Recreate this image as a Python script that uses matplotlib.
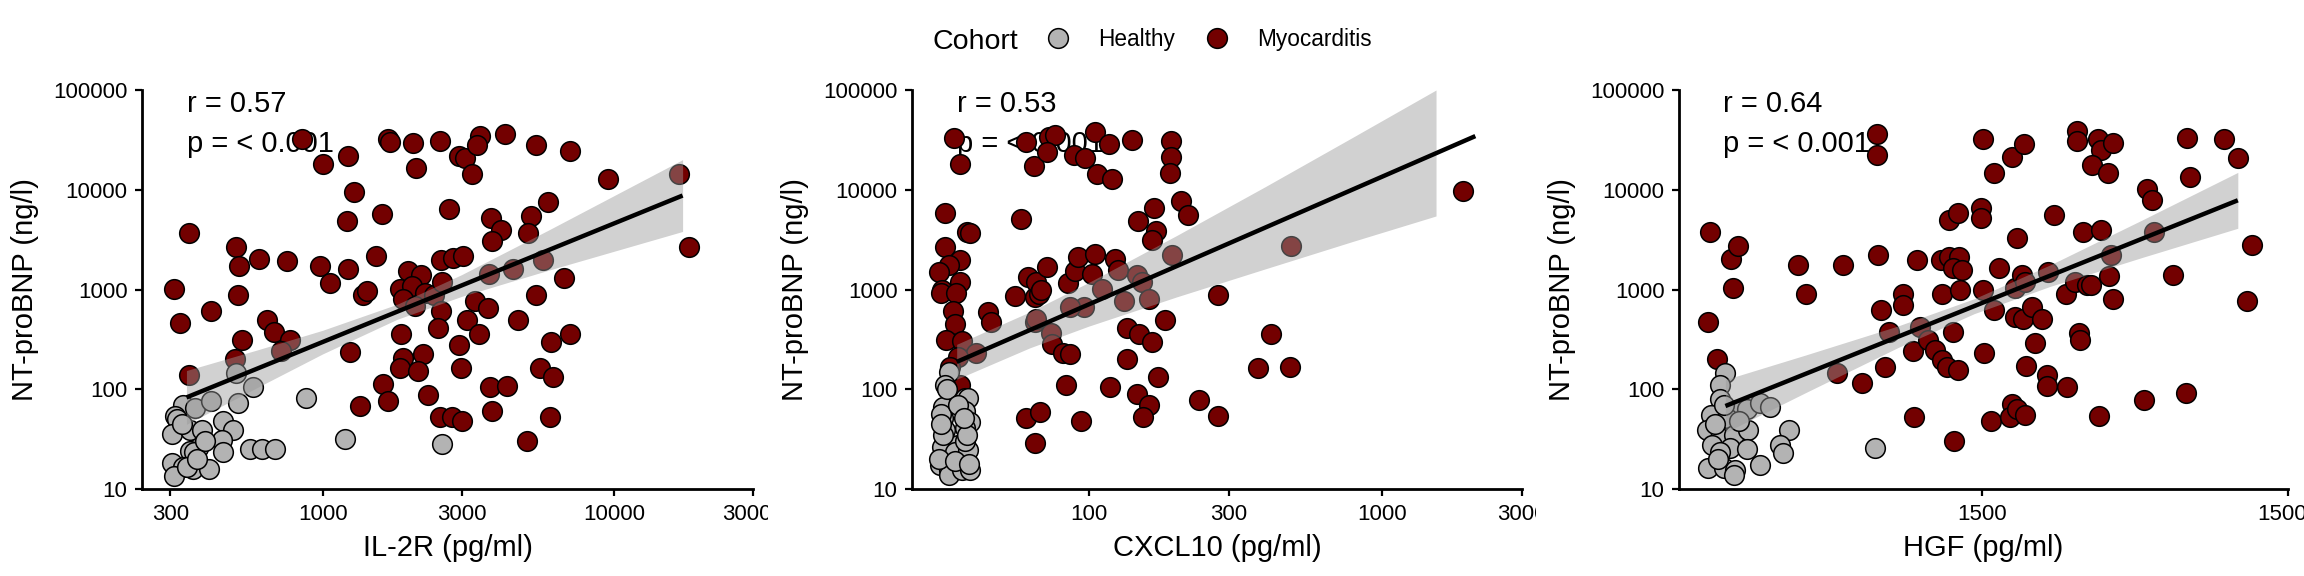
import matplotlib
matplotlib.use("Agg")
import matplotlib.pyplot as plt
from matplotlib.lines import Line2D
from matplotlib.ticker import NullLocator
from matplotlib.transforms import Bbox, TransformedBbox

plt.rcParams['font.family'] = ['Liberation Sans', 'DejaVu Sans']

healthy_col = '#b3b3b3'
myo_col = '#730000'
band_col = '#999999'

# ---- IL-2R panel ----
il2r_myo_x = [849, 1004, 1219, 1277, 1675, 1710, 2051, 2099, 2529, 2943, 3084, 3245, 3475, 3396,
              4223, 5400, 7050, 9550, 16750, 5915, 5210, 3785, 4090, 3829, 5070, 2724, 1600, 1210,
              347, 18030, 503, 516, 606, 757, 977, 1219, 1521, 1060, 1380, 1418, 310, 511, 324, 414,
              642, 681, 771, 527, 499, 719, 347, 1239, 1959, 2183, 1847, 2020, 1884, 2251, 2075,
              2416, 2540, 2570, 2799, 3027, 2549, 2490, 1862, 3345, 3686, 3131, 3436, 3715, 4510,
              5690, 6730, 5400, 4670, 7050, 6080, 2932, 2218, 1884, 1847, 2132, 2989, 5590, 6175,
              1611, 2305, 1675, 1343, 3742, 4288, 2529, 2778, 3000, 3816, 6035, 5030]
il2r_myo_y = [32500, 18100, 21600, 9600, 32000, 30000, 29600, 16700, 30800, 21600, 20800, 14300,
              34600, 28000, 36560, 28200, 24300, 12900, 14500, 7600, 5460, 5170, 3960, 3080, 3690,
              6340, 5680, 4850, 3690, 2690, 2650, 1720, 2010, 1920, 1720, 1590, 2190, 1150, 875,
              970, 1010, 875, 459, 614, 497, 372, 310, 315, 201, 241, 139, 236, 1550, 1400, 1010,
              1090, 796, 930, 681, 875, 1970, 1180, 2050, 2180, 605, 408, 357, 766, 655, 497, 357,
              1440, 1590, 1970, 1310, 875, 497, 357, 298, 280, 226, 206, 165, 153, 164, 163, 133,
              112, 88, 77, 68, 105, 109, 53, 53, 48, 60, 53, 30]
il2r_hea_x = [503, 576, 875, 2577, 1189, 332, 365, 413, 512, 311, 316, 304, 351, 385, 455, 492,
              451, 373, 351, 362, 455, 562, 618, 685, 304, 332, 359, 408, 309, 342, 330, 372, 395]
il2r_hea_y = [146, 105, 82, 28, 32, 69, 65, 76, 73, 54, 50, 36, 39, 39, 48, 39, 31, 26, 24, 23.5,
              23.5, 25, 25, 25, 18.2, 16.6, 15.9, 15.9, 13.5, 16.6, 45, 20, 30]
il2r_band_x = [341, 600, 1000, 1800, 3000, 6000, 17200]
il2r_band_lo = [44.5, 105, 226, 502, 853, 1570, 3819]
il2r_band_hi = [154, 249, 390, 710, 1409, 3981, 20045]
il2r_line_x = [341, 17200]
il2r_line_y = [82.8, 8750]

# ---- CXCL10 panel ----
cxcl10_myo_x = [34.8, 36.3, 32.4, 38.4, 39.4, 32.4, 36.5, 33.3, 31.0, 36.5, 31.6, 31.5, 35.3, 34.4,
                34.9, 32.7, 37.0, 41.3, 36.0, 33.7, 36.3, 45.5, 46.5, 58.7, 56.0, 62.1, 65.5, 65.5,
                61.4, 65.5, 68.1, 65.1, 61.4, 73.0, 76.7, 72.1, 89.1, 97.3, 105, 107, 117, 120, 140,
                191, 191, 190, 206, 218, 1888, 167, 147, 170, 164, 192, 491, 66.2, 67.5, 68.8, 72.4,
                85.1, 90.1, 91.9, 103, 105, 111, 123, 126, 146, 152, 132, 161, 96.6, 86.1, 66.2,
                74.3, 75.2, 81.8, 86.1, 135, 149, 164, 182, 135, 173, 83.4, 118, 146, 161, 153,
                94.4, 238, 277, 277, 417, 379, 485]
cxcl10_myo_y = [32700, 18100, 5810, 3800, 3710, 2690, 1980, 1760, 1510, 1200, 988, 929, 929, 609,
                451, 312, 307, 229, 212, 168, 110, 599, 476, 5090, 867, 1340, 847, 476, 51.2, 29.1,
                59.6, 17300, 30200, 34000, 35400, 23900, 22100, 20700, 38300, 14500, 29000, 12900,
                31500, 30700, 21200, 14600, 7740, 5560, 9800, 6510, 4830, 3900, 3130, 2210, 2740,
                1200, 910, 985, 1670, 1150, 1520, 2110, 1430, 2250, 1020, 2000, 1580, 1400, 1200,
                759, 796, 664, 664, 504, 368, 284, 230, 226, 414, 362, 298, 497, 199, 134, 111, 106,
                89, 69, 52.2, 48.3, 78, 53.5, 889, 362, 165, 167]
cxcl10_hea_x = [33.3, 32.3, 37.9, 38.9, 32.0, 37.9, 32.0, 39.4, 32.4, 37.9, 31.6, 36.0, 34.9, 38.9,
                31.2, 33.3, 33.3, 37.0, 39.4, 31.5, 33.0, 36.0, 38.0, 31.0, 35.0, 39.0, 32.0, 38.5,
                31.5, 37.5]
cxcl10_hea_y = [150, 110, 82, 82, 67, 60, 51.5, 47.3, 39, 40.9, 26.6, 27.6, 23.7, 24.6, 17.4, 15.5,
                13.8, 15.5, 15.5, 56, 100, 70, 30, 20, 19, 18, 35, 35, 45, 52]
cxcl10_band_x = [35.5, 63, 100, 200, 400, 794, 1528]
cxcl10_band_lo = [126, 260, 429, 845, 1610, 3030, 5460]
cxcl10_band_hi = [282, 596, 1175, 3490, 10740, 33500, 100000]
cxcl10_line_x = [35.5, 2080]
cxcl10_line_y = [188, 34500]

# ---- HGF panel ----
hgf_myo_x = [193, 191, 203, 227, 238, 230, 374, 399, 524, 677, 677, 685, 702, 741, 722, 501, 606,
             828, 828, 891, 901, 915, 942, 995, 1052, 1110, 1151, 1253, 1208, 1110, 1099, 1172,
             1262, 1208, 1285, 1172, 1253, 1271, 1215, 1506, 1644, 1875, 2056, 1489, 1489, 1506,
             1517, 1603, 1707, 1644, 1945, 1923, 2018, 2071, 1875, 1855, 1945, 2071, 1923, 2038,
             2179, 2355, 2228, 2094, 2444, 2444, 2849, 2582, 2470, 2809, 3021, 3300, 3400, 3099,
             3131, 3066, 3066, 3586, 3656, 4008, 3424, 3864, 3214, 3656, 3628, 3900, 3963, 4008,
             5178, 5370, 5471, 5085, 6291, 6945, 7023, 7148, 9240, 10280, 10990, 11480]
hgf_myo_y = [3790, 469, 200, 2000, 2750, 1030, 1770, 896, 1770, 35900, 22300, 2240, 630, 376, 166,
             145, 115, 896, 696, 240, 52.4, 1970, 420, 315, 245, 195, 166, 156, 376, 910, 1970,
             2100, 2100, 1630, 1560, 4920, 5840, 990, 30.1, 31900, 14700, 21500, 28800, 6580,
             5200, 990, 231, 48.4, 1630, 618, 3290, 1030, 1400, 1200, 71.8, 52.4, 62.8, 55, 530,
             507, 668, 507, 288, 171, 138, 108, 105, 5620, 1500, 896, 1200, 1120, 1110, 365, 310,
             38800, 31100, 31900, 25200, 29400, 17600, 14700, 3790, 3950, 53.6, 1350, 2240, 802,
             10200, 7840, 3790, 78.4, 1390, 92, 33200, 13300, 31900, 21000, 765, 2770]
hgf_hea_x = [217, 209, 208, 234, 255, 282, 304, 194, 220, 189, 209, 231, 258, 349, 328, 336, 196,
             225, 208, 255, 190, 214, 234, 231, 282, 667, 200, 215, 240, 205]
hgf_hea_y = [145, 110, 79, 62, 64, 72, 67, 55, 51, 39, 32.2, 34.8, 39, 39, 27.6, 22.8, 27.6, 25.6,
             23.7, 25, 16.1, 16.1, 15.5, 13.8, 17.4, 26, 45, 70, 48, 20]
hgf_band_x = [217, 398, 794, 1413, 2512, 5012, 10280]
hgf_band_lo = [36.9, 92.9, 261, 573, 1079, 2099, 4111]
hgf_band_hi = [125, 221, 430, 809, 1774, 4989, 14930]
hgf_line_x = [217, 10280]
hgf_line_y = [67.9, 7840]

y_ticks = [10, 100, 1000, 10000, 100000]

panels = [
    dict(xlabel='IL-2R (pg/ml)', xlim=(240, 30000), xticks=[300, 1000, 3000, 10000, 30000],
         myo=(il2r_myo_x, il2r_myo_y), hea=(il2r_hea_x, il2r_hea_y),
         band=(il2r_band_x, il2r_band_lo, il2r_band_hi), line=(il2r_line_x, il2r_line_y),
         r='r = 0.57', p='p = < 0.001'),
    dict(xlabel='CXCL10 (pg/ml)', xlim=(25, 3000), xticks=[100, 300, 1000, 3000],
         myo=(cxcl10_myo_x, cxcl10_myo_y), hea=(cxcl10_hea_x, cxcl10_hea_y),
         band=(cxcl10_band_x, cxcl10_band_lo, cxcl10_band_hi), line=(cxcl10_line_x, cxcl10_line_y),
         r='r = 0.53', p='p = < 0.001'),
    dict(xlabel='HGF (pg/ml)', xlim=(153, 15000), xticks=[1500, 15000],
         myo=(hgf_myo_x, hgf_myo_y), hea=(hgf_hea_x, hgf_hea_y),
         band=(hgf_band_x, hgf_band_lo, hgf_band_hi), line=(hgf_line_x, hgf_line_y),
         r='r = 0.64', p='p = < 0.001'),
]

W, H = 2304, 576
fig = plt.figure(figsize=(W / 100, H / 100), dpi=100)

lefts = [142, 912, 1679]
rights = [753, 1522, 2288]
top, bottom = 90, 489

for i, pn in enumerate(panels):
    ax = fig.add_axes([lefts[i] / W, 1 - bottom / H, (rights[i] - lefts[i]) / W, (bottom - top) / H])
    ax.set_xscale('log')
    ax.set_yscale('log')

    ax.scatter(pn['myo'][0], pn['myo'][1], s=200, c=myo_col, edgecolors='black',
               linewidths=1.1, zorder=2)
    ax.scatter(pn['hea'][0], pn['hea'][1], s=200, c=healthy_col, edgecolors='black',
               linewidths=1.1, zorder=2.1)
    bx, blo, bhi = pn['band']
    ax.fill_between(bx, blo, bhi, color=band_col, alpha=0.45, linewidth=0, zorder=3)
    ax.plot(pn['line'][0], pn['line'][1], color='black', linewidth=3.2,
            solid_capstyle='butt', zorder=4)

    ax.text(0.073, 0.945, pn['r'], transform=ax.transAxes, fontsize=21, va='baseline', zorder=1)
    ax.text(0.073, 0.845, pn['p'], transform=ax.transAxes, fontsize=21, va='baseline', zorder=1)

    ax.set_xlim(*pn['xlim'])
    ax.set_ylim(10, 100000)
    ax.set_xticks(pn['xticks'], [str(t) for t in pn['xticks']])
    ax.set_yticks(y_ticks, [str(t) for t in y_ticks])
    ax.xaxis.set_minor_locator(NullLocator())
    ax.yaxis.set_minor_locator(NullLocator())

    for side in ['top', 'right']:
        ax.spines[side].set_visible(False)
    for side in ['left', 'bottom']:
        ax.spines[side].set_linewidth(2.0)
        ax.spines[side].set_color('black')
    ax.tick_params(which='major', direction='out', length=5, width=1.6, labelsize=16,
                   pad=5.5, colors='black')

    ax.set_xlabel(pn['xlabel'], fontsize=21, labelpad=7)
    ax.set_ylabel('NT-proBNP (ng/l)', fontsize=21, labelpad=10)

    # right-most tick label gets cut at the panel edge
    clip = TransformedBbox(Bbox([[i / 3, 0], [(i + 1) / 3, 1]]), fig.transFigure)
    for lab in ax.get_xticklabels():
        lab.set_clip_box(clip)
        lab.set_clip_on(True)

# legend on top
fig.text(932 / W, 1 - 49.3 / H, 'Cohort', fontsize=20.5, va='baseline', ha='left')
handles = [
    Line2D([], [], marker='o', linestyle='', markersize=14.2, markerfacecolor=healthy_col,
           markeredgecolor='black', markeredgewidth=1.1),
    Line2D([], [], marker='o', linestyle='', markersize=14.2, markerfacecolor=myo_col,
           markeredgecolor='black', markeredgewidth=1.1),
]
fig.legend(handles, ['Healthy', 'Myocarditis'], loc='center left',
           bbox_to_anchor=(1047 / W, 1 - 39.3 / H), ncol=2, frameon=False, fontsize=16.3,
           handlelength=1.0, handletextpad=1.27, columnspacing=1.36, borderpad=0,
           borderaxespad=0)

fig.savefig('out.png', dpi=100, facecolor='white')
